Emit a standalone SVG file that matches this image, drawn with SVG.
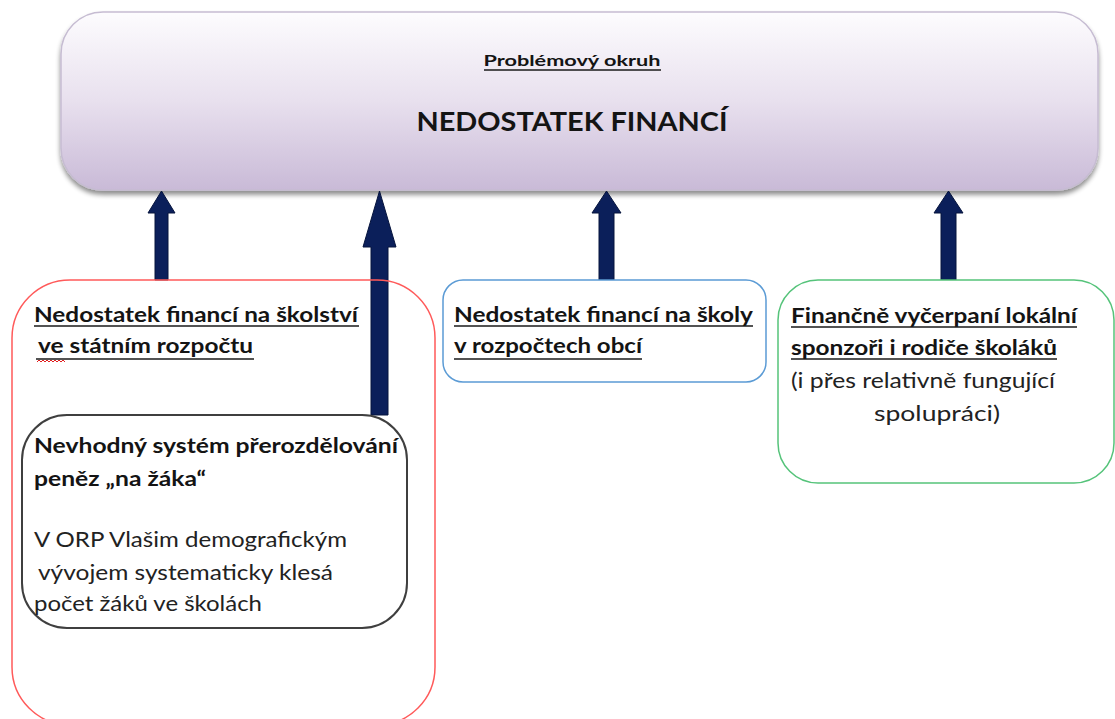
<svg xmlns="http://www.w3.org/2000/svg" width="1115" height="719" viewBox="0 0 1115 719">
<defs>
<linearGradient id="topGrad" x1="0" y1="0" x2="0" y2="1">
<stop offset="0" stop-color="#fdfcfe"/>
<stop offset="0.5" stop-color="#e8e0ee"/>
<stop offset="1" stop-color="#c9bad7"/>
</linearGradient>
<filter id="shadow" x="-5%" y="-10%" width="110%" height="130%">
<feGaussianBlur in="SourceAlpha" stdDeviation="2.5"/>
<feOffset dx="0" dy="4" result="b"/>
<feComponentTransfer><feFuncA type="linear" slope="0.45"/></feComponentTransfer>
<feMerge><feMergeNode/><feMergeNode in="SourceGraphic"/></feMerge>
</filter>
</defs>
<style>
text{font-family:Lato,"Liberation Sans",sans-serif;fill:#141414}
.b{font-weight:bold;font-size:20.5px}
.n{font-size:20.5px;fill:#222}
.ul{stroke:#1a1a1a;stroke-width:1.5}
.arrow{fill:#0b1f5a;stroke:#06143d;stroke-width:1}
</style>
<rect width="1115" height="719" fill="#ffffff"/>

<g id="problem">
<rect x="61" y="12" width="1037" height="178" rx="42" fill="url(#topGrad)" stroke="#c6bcd2" stroke-width="1.5" filter="url(#shadow)"/>
<text x="572" y="66" text-anchor="middle" style="font-weight:bold;font-size:16px" textLength="177" lengthAdjust="spacingAndGlyphs">Problémový okruh</text>
<line class="ul" x1="484" y1="70" x2="661" y2="70"/>
<text x="572" y="131" text-anchor="middle" style="font-weight:bold;font-size:27px" textLength="311" lengthAdjust="spacingAndGlyphs">NEDOSTATEK FINANCÍ</text>
</g>

<g id="connectors">
<polygon class="arrow" points="155,280 155,213 148,213 161.5,191 175,213 168,213 168,280"/>
<polygon class="arrow" points="371,415 371,247 363,247 379.5,191 396,247 388,247 388,415"/>
<polygon class="arrow" points="599,280 599,213 592,213 606.5,191 621,213 614,213 614,280"/>
<polygon class="arrow" points="941,280 941,213 934,213 948.5,191 963,213 956,213 956,280"/>
</g>

<g id="state-budget">
<rect x="12" y="280" width="423" height="445" rx="58" fill="none" stroke="#ff5a5a" stroke-width="1.5"/>
<text class="b" x="34" y="322" textLength="324" lengthAdjust="spacingAndGlyphs">Nedostatek financí na školství</text>
<line class="ul" x1="34" y1="326" x2="359" y2="326"/>
<text class="b" x="38" y="353" textLength="215" lengthAdjust="spacingAndGlyphs">ve státním rozpočtu</text>
<line class="ul" x1="36" y1="359" x2="254" y2="359"/>
<path d="M37,362 l2,-2 l2,2 l2,-2 l2,2 l2,-2 l2,2 l2,-2 l2,2 l2,-2 l2,2 l2,-2 l2,2 l2,-2 l2,2" fill="none" stroke="#e02020" stroke-width="1"/>
</g>

<g id="per-pupil">
<rect x="22" y="415" width="385" height="213" rx="45" fill="#ffffff" stroke="#3f3f3f" stroke-width="2"/>
<text class="b" x="34" y="453" textLength="364" lengthAdjust="spacingAndGlyphs">Nevhodný systém přerozdělování</text>
<text class="b" x="34" y="486" textLength="172" lengthAdjust="spacingAndGlyphs">peněz „na žáka“</text>
<text class="n" x="34" y="547" textLength="313" lengthAdjust="spacingAndGlyphs">V ORP Vlašim demografickým</text>
<text class="n" x="38" y="580" textLength="295" lengthAdjust="spacingAndGlyphs">vývojem systematicky klesá</text>
<text class="n" x="34" y="611" textLength="228" lengthAdjust="spacingAndGlyphs">počet žáků ve školách</text>
</g>

<g id="municipal-budget">
<rect x="443" y="280" width="323" height="102" rx="20" fill="#ffffff" stroke="#5b9bd5" stroke-width="1.5"/>
<text class="b" x="454" y="322" textLength="299" lengthAdjust="spacingAndGlyphs">Nedostatek financí na školy</text>
<line class="ul" x1="454" y1="326" x2="753" y2="326"/>
<text class="b" x="454" y="353" textLength="188" lengthAdjust="spacingAndGlyphs">v rozpočtech obcí</text>
<line class="ul" x1="454" y1="359" x2="642" y2="359"/>
</g>

<g id="sponsors">
<rect x="778" y="280" width="336" height="203" rx="40" fill="#ffffff" stroke="#55c37a" stroke-width="1.5"/>
<text class="b" x="791" y="323" textLength="286" lengthAdjust="spacingAndGlyphs">Finančně vyčerpaní lokální</text>
<line class="ul" x1="791" y1="327" x2="1077" y2="327"/>
<text class="b" x="791" y="355" textLength="266" lengthAdjust="spacingAndGlyphs">sponzoři i rodiče školáků</text>
<line class="ul" x1="791" y1="359" x2="1057" y2="359"/>
<text class="n" x="791" y="388" textLength="264" lengthAdjust="spacingAndGlyphs">(i přes relativně fungující</text>
<text class="n" x="874" y="421" textLength="126" lengthAdjust="spacingAndGlyphs">spolupráci)</text>
</g>
</svg>
